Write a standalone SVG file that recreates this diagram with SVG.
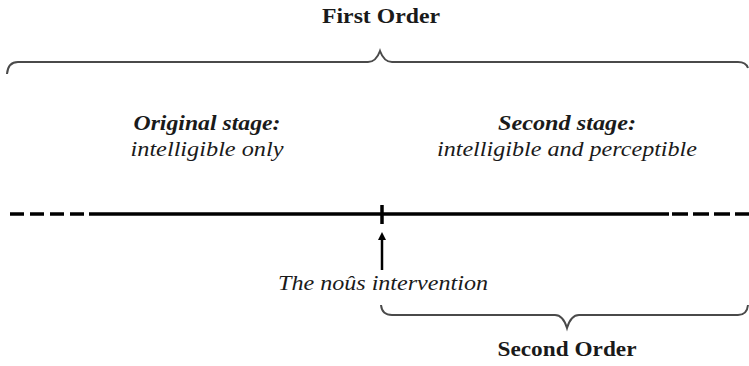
<svg xmlns="http://www.w3.org/2000/svg" width="749" height="366" viewBox="0 0 749 366">
<defs>
<style>
.t{font-family:"Liberation Serif","Times New Roman",serif;fill:#1a1a1a;text-anchor:middle;font-size:22px}
.b{font-weight:bold}
.i{font-style:italic}
.bi{font-style:italic;font-weight:bold}
.brace{fill:none;stroke:#4a4a4a;stroke-width:2}
.line{stroke:#000;stroke-width:3.5;fill:none}
</style>
<marker id="ah" markerWidth="8" markerHeight="8" refX="4" refY="4" orient="auto" markerUnits="userSpaceOnUse">
<path d="M0,0 L8,4 L0,8 z" fill="#000"/>
</marker>
</defs>
<rect width="749" height="366" fill="#fff"/>
<g id="first-order">
<path class="brace" d="M7,74 Q8,62 18,62 L368,62 Q376,62 380,51 Q384,62 392,62 L738,62 Q746,62 748,68"/>
<text class="t b" x="381" y="23" textLength="118" lengthAdjust="spacingAndGlyphs">First Order</text>
</g>
<g id="original-stage">
<text class="t bi" x="207" y="130" textLength="147" lengthAdjust="spacingAndGlyphs">Original stage:</text>
<text class="t i" x="207" y="156" textLength="153" lengthAdjust="spacingAndGlyphs">intelligible only</text>
</g>
<g id="second-stage">
<text class="t bi" x="567" y="130" textLength="138" lengthAdjust="spacingAndGlyphs">Second stage:</text>
<text class="t i" x="567" y="156" textLength="260" lengthAdjust="spacingAndGlyphs">intelligible and perceptible</text>
</g>
<g id="timeline">
<line class="line" x1="10" y1="214" x2="88" y2="214" stroke-dasharray="14,6"/>
<line class="line" x1="89" y1="214" x2="669" y2="214"/>
<line class="line" x1="672" y1="214" x2="749" y2="214" stroke-dasharray="16,5"/>
<line class="line" x1="382" y1="205" x2="382" y2="224"/>
</g>
<g id="nous-intervention">
<text class="t i" x="383" y="290" textLength="210" lengthAdjust="spacingAndGlyphs">The noûs intervention</text>
</g>
<g id="connectors">
<line x1="382" y1="270" x2="382" y2="236" stroke="#000" stroke-width="2.5" marker-end="url(#ah)"/>
</g>
<g id="second-order">
<path class="brace" d="M381,305 Q382,315 392,315 L555,315 Q563,315 567,328 Q571,315 579,315 L738,315 Q747,315 748,305"/>
<text class="t b" x="567" y="356" textLength="139" lengthAdjust="spacingAndGlyphs">Second Order</text>
</g>
</svg>
